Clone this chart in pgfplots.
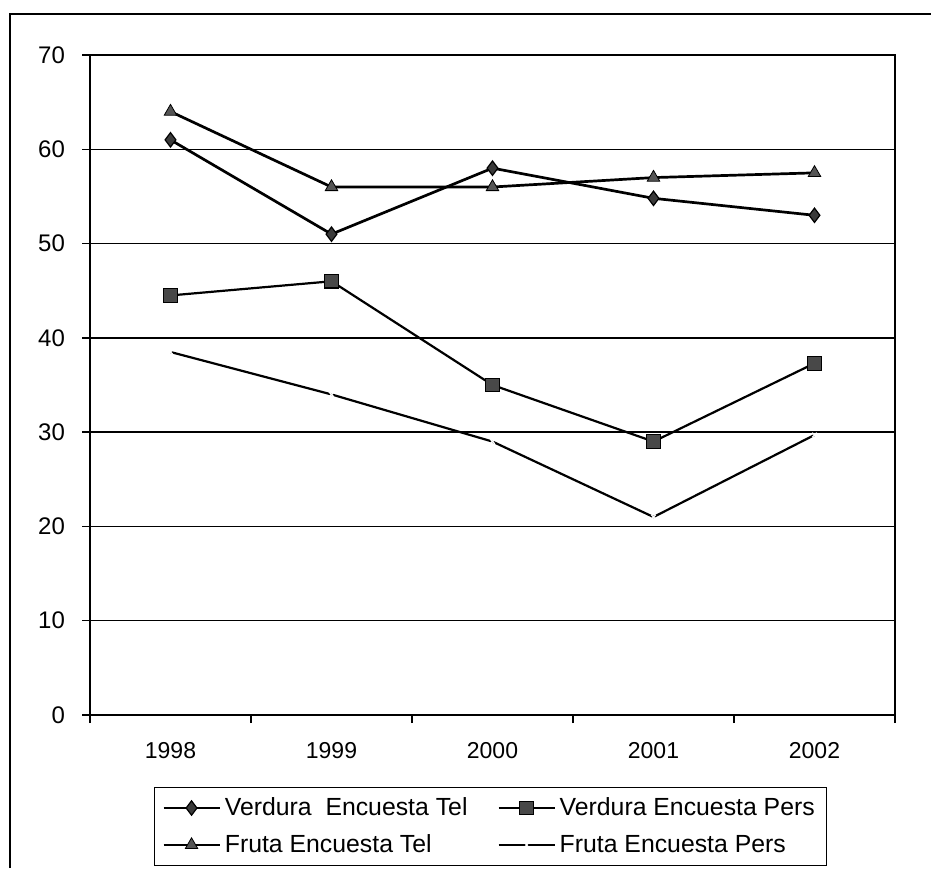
\documentclass[border=0pt]{standalone}
\usepackage{fontspec}
\setmainfont{Liberation Sans}
\usepackage{pgfplots}
\pgfplotsset{compat=1.18}
\definecolor{mkA}{HTML}{3A3A3A}
\definecolor{mkB}{HTML}{484848}
\definecolor{mkC}{HTML}{555555}
\begin{document}
\begin{tikzpicture}
\path[use as bounding box] (0,0) rectangle (465.5pt,434pt);
\draw[line width=0.7pt] (5pt,0pt) -- (5pt,427pt) -- (465.5pt,427pt);
\begin{axis}[
  at={(45pt,76.5pt)}, anchor=south west,
  scale only axis, width=402.5pt, height=330pt,
  xmin=-0.5, xmax=4.5, ymin=0, ymax=70,
  xtick={0,1,2,3,4}, xticklabels={1998,1999,2000,2001,2002},
  minor xtick={-0.5,0.5,1.5,2.5,3.5,4.5},
  ytick={0,10,...,70},
  xtick pos=left, ytick pos=left,
  tick align=outside,
  major x tick style={draw=none},
  major tick length=4pt, minor tick length=4pt,
  every tick/.style={black, line width=0.7pt},
  ymajorgrids, major grid style={black, line width=0.75pt},
  axis line style={black, line width=1pt},
  /pgf/number format/assume math mode=true,
  xticklabel style={font=\fontsize{11.5pt}{13pt}\selectfont, yshift=-6pt},
  yticklabel style={font=\fontsize{12pt}{14pt}\selectfont, xshift=-5pt},
  legend style={at={(0.4975,-0.109)}, anchor=north, draw=black, line width=0.6pt,
    font=\fontsize{12.4pt}{14pt}\selectfont, inner xsep=4pt, inner ysep=3pt, row sep=4pt,
    /tikz/every even column/.append style={column sep=13pt}},
  legend columns=2, legend cell align=left,
  legend image code/.code={\draw[mark repeat=2,mark phase=2] plot coordinates {(0pt,0pt) (14pt,0pt) (28pt,0pt)};},
]
\addplot[black, line width=1.35pt, mark=diamond*, mark size=3.6pt, mark options={fill=mkA, draw=black, line width=0.6pt}]
  coordinates {(0,61) (1,51) (2,58) (3,54.8) (4,53)};
\addlegendentry{Verdura\ \ Encuesta Tel}
\addplot[black, line width=1.1pt, mark=square*, mark size=3.4pt, mark options={fill=mkB, draw=black, line width=0.6pt}]
  coordinates {(0,44.5) (1,46) (2,35) (3,29) (4,37.3)};
\addlegendentry{Verdura Encuesta Pers}
\addplot[black, line width=1.35pt, mark=triangle*, mark size=3.6pt, mark options={fill=mkC, draw=black, line width=0.4pt}]
  coordinates {(0,64) (1,56) (2,56) (3,57) (4,57.5)};
\addlegendentry{Fruta Encuesta Tel}
\addplot[black, line width=1.1pt, mark=x, mark size=1.6pt, mark options={draw=white, line width=0.6pt}]
  coordinates {(0,38.5) (1,34) (2,29) (3,21) (4,29.7)};
\addlegendentry{Fruta Encuesta Pers}
\end{axis}
\end{tikzpicture}
\end{document}
